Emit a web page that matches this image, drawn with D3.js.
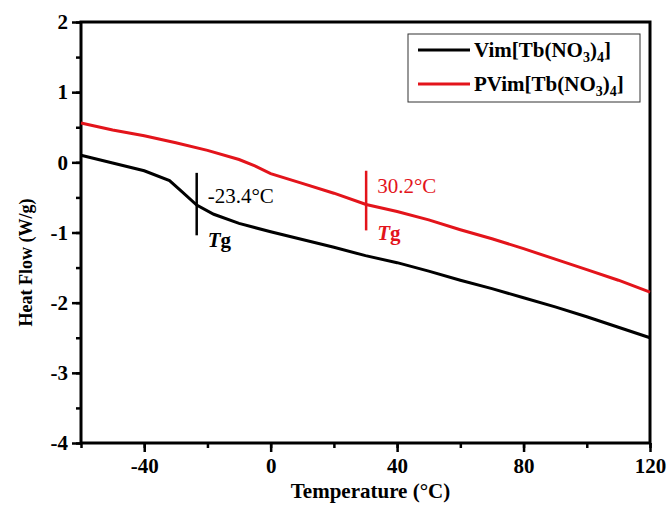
<!doctype html>
<html lang="en">
  <head>
    <meta charset="utf-8">
    <title>DSC curves</title>
    <script src="https://d3js.org/d3.v7.min.js"></script>
    <style>
      body { margin: 0; background: #fff; }
      svg { font-family: "Liberation Serif", "Times New Roman", serif; }
    </style>
  </head>
  <body>
    <div id="chart"></div>
    <script>

      // data
      const vimTemp = [-60, -50, -40, -32, -28, -23.4, -18, -10, 0, 10, 20, 30, 40, 50, 60, 70, 80, 90, 100, 110, 120];
      const vimFlow = [0.10, -0.01, -0.12, -0.26, -0.42, -0.61, -0.74, -0.87, -0.99, -1.10, -1.21, -1.33, -1.43, -1.55, -1.68, -1.80, -1.93, -2.06, -2.20, -2.35, -2.50];
      const pvimTemp = [-60, -50, -40, -30, -20, -10, -5, 0, 10, 20, 30.2, 40, 50, 60, 70, 80, 90, 100, 110, 120];
      const pvimFlow = [0.56, 0.46, 0.38, 0.28, 0.17, 0.04, -0.05, -0.16, -0.30, -0.44, -0.60, -0.70, -0.82, -0.96, -1.09, -1.23, -1.38, -1.53, -1.68, -1.85];
      const seriesNames = ["Vim[Tb(NO", "PVim[Tb(NO"];
      const tgTemps = [-23.4, 30.2];
      const tgTop = [-0.15, -0.12];
      const tgBottom = [-1.04, -0.97];
      const tgLabels = ["-23.4°C", "30.2°C"];
      const xTicks = [-40, 0, 40, 80, 120];
      const yTicks = [2, 1, 0, -1, -2, -3, -4];

      const colors = ["#000000", "#e3141b"];

      const W = 671, H = 512;
      const margin = {top: 22, right: 21, bottom: 69, left: 81},
          width = W - margin.left - margin.right,
          height = H - margin.top - margin.bottom;

      const svg = d3.select("#chart")
        .append("svg")
          .attr("width", W)
          .attr("height", H)
        .append("g")
          .attr("transform", `translate(${margin.left},${margin.top})`);

      const x = d3.scaleLinear().domain([-60, 120]).range([0, width]);
      const y = d3.scaleLinear().domain([-4, 2]).range([height, 0]);

      // minor ticks first (no labels)
      svg.append("g")
        .attr("transform", `translate(0,${height})`)
        .call(d3.axisBottom(x).tickValues(d3.range(-60, 121, 20)).tickSize(5).tickFormat(""))
        .call(g => g.select(".domain").remove())
        .selectAll("line").attr("stroke-width", 2.5);
      svg.append("g")
        .call(d3.axisLeft(y).tickValues(d3.range(-4, 2.01, 0.5)).tickSize(5).tickFormat(""))
        .call(g => g.select(".domain").remove())
        .selectAll("line").attr("stroke-width", 2.5);

      // major ticks + labels (plain hyphen for negatives, like the original)
      const fmt = d => String(d);
      const xAxis = svg.append("g")
        .attr("transform", `translate(0,${height})`)
        .call(d3.axisBottom(x).tickValues(xTicks).tickSize(9).tickPadding(6).tickFormat(fmt));
      const yAxis = svg.append("g")
        .call(d3.axisLeft(y).tickValues(yTicks).tickSize(9).tickPadding(4).tickFormat(fmt));
      [xAxis, yAxis].forEach(a => {
        a.select(".domain").remove();
        a.selectAll("line").attr("stroke-width", 2.5);
        a.selectAll("text")
          .attr("font-family", "Liberation Serif")
          .attr("font-weight", "bold")
          .attr("font-size", "21px")
          .attr("fill", "#000");
      });

      // frame
      svg.append("rect")
        .attr("x", 0).attr("y", 0)
        .attr("width", width).attr("height", height)
        .attr("fill", "none")
        .attr("stroke", "#000")
        .attr("stroke-width", 3);

      // curves
      const line = d3.line().x(d => x(d[0])).y(d => y(d[1]));
      const series = [
        d3.zip(vimTemp, vimFlow),
        d3.zip(pvimTemp, pvimFlow)
      ];
      series.forEach((s, i) => {
        svg.append("path")
          .datum(s)
          .attr("fill", "none")
          .attr("stroke", colors[i])
          .attr("stroke-width", 3)
          .attr("d", line);
      });

      // Tg markers
      tgTemps.forEach((t, i) => {
        svg.append("line")
          .attr("x1", x(t)).attr("x2", x(t))
          .attr("y1", y(tgTop[i])).attr("y2", y(tgBottom[i]))
          .attr("stroke", colors[i])
          .attr("stroke-width", 2.5);
        svg.append("text")
          .attr("x", x(t) + 11)
          .attr("y", y(tgTop[i]) + (i == 0 ? 30 : 22))
          .attr("font-size", "21px")
          .attr("fill", colors[i])
          .text(tgLabels[i]);
        const tg = svg.append("text")
          .attr("x", x(t) + 11)
          .attr("y", y(tgBottom[i]) + (i == 0 ? 12 : 10))
          .attr("font-size", "21px")
          .attr("font-weight", "bold")
          .attr("fill", colors[i]);
        tg.append("tspan").attr("font-style", "italic").text("T");
        tg.append("tspan").text("g");
      });

      // axis titles
      svg.append("text")
        .attr("x", width / 2 + 5)
        .attr("y", height + 55)
        .attr("text-anchor", "middle")
        .attr("font-size", "21px")
        .attr("font-weight", "bold")
        .text("Temperature (°C)");
      svg.append("text")
        .attr("transform", `translate(${-49},${height / 2 + 30}) rotate(-90)`)
        .attr("text-anchor", "middle")
        .attr("font-size", "18px")
        .attr("font-weight", "bold")
        .text("Heat Flow (W/g)");

      // legend
      const lg = svg.append("g").attr("transform", `translate(${408 - margin.left},${34 - margin.top})`);
      lg.append("rect")
        .attr("width", 232).attr("height", 68)
        .attr("fill", "#fff")
        .attr("stroke", "#333")
        .attr("stroke-width", 1);
      seriesNames.forEach((n, i) => {
        const ly = 16 + i * 34;
        lg.append("line")
          .attr("x1", 10).attr("x2", 62)
          .attr("y1", ly).attr("y2", ly)
          .attr("stroke", colors[i])
          .attr("stroke-width", 3);
        const t = lg.append("text")
          .attr("x", 66).attr("y", ly + 7)
          .attr("font-size", "21px")
          .attr("font-weight", "bold")
          .attr("fill", "#000");
        t.append("tspan").text(n);
        t.append("tspan").attr("font-size", "14px").attr("dy", 5).text("3");
        t.append("tspan").attr("dy", -5).text(")");
        t.append("tspan").attr("font-size", "14px").attr("dy", 5).text("4");
        t.append("tspan").attr("dy", -5).text("]");
      });

    </script>
  </body>
</html>
